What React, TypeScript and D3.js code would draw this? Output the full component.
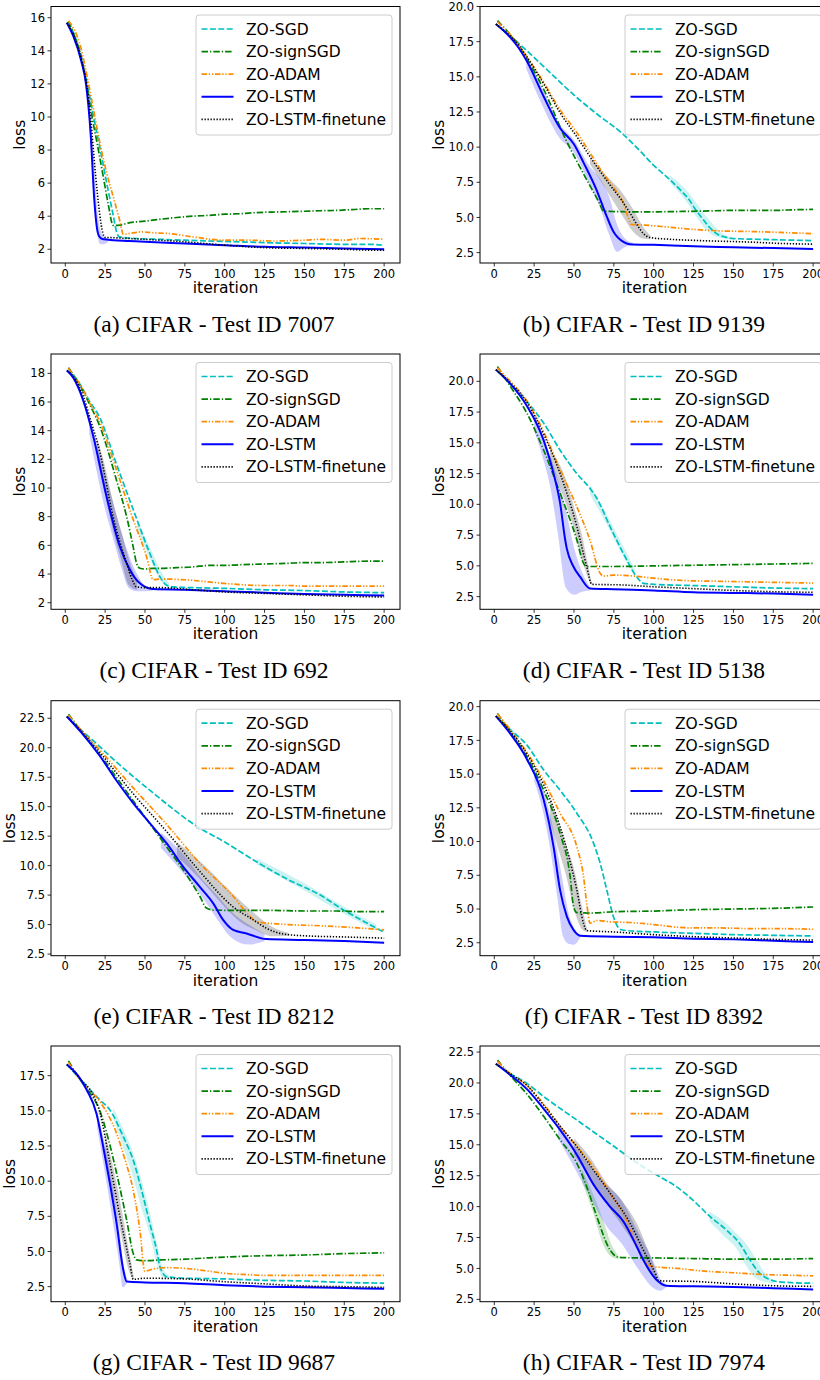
import React from "react";
import * as d3 from "d3";

type P = [number, number];
type B = [number, number, number];

// ---------- shared labels ----------
const SERIES_NAMES = ["ZO-SGD", "ZO-signSGD", "ZO-ADAM", "ZO-LSTM", "ZO-LSTM-finetune"];
const X_TICKS = [0, 25, 50, 75, 100, 125, 150, 175, 200];
const Y_TICKS_INT_16 = [2, 4, 6, 8, 10, 12, 14, 16];
const Y_TICKS_INT_18 = [2, 4, 6, 8, 10, 12, 14, 16, 18];
const Y_TICKS_175 = [2.5, 5.0, 7.5, 10.0, 12.5, 15.0, 17.5];
const Y_TICKS_200 = [2.5, 5.0, 7.5, 10.0, 12.5, 15.0, 17.5, 20.0];
const Y_TICKS_225 = [2.5, 5.0, 7.5, 10.0, 12.5, 15.0, 17.5, 20.0, 22.5];
const TEST_IDS = ["7007", "9139", "692", "5138", "8212", "8392", "9687", "7974"];
const LETTERS = ["a", "b", "c", "d", "e", "f", "g", "h"];

// ---------- (a) Test ID 7007 ----------
const a_sgd: P[] = [[1,15.7],[5,15.1],[10,13.7],[14,11.9],[18,9.9],[22,8.0],[26,6.0],[30,4.1],[32.5,2.95],[34,2.75],[45,2.65],[60,2.6],[75,2.55],[90,2.5],[110,2.45],[125,2.4],[150,2.35],[175,2.3],[190,2.3],[200,2.25]];
const a_sign: P[] = [[2,15.8],[5,15.1],[10,13.6],[14,11.6],[17,9.9],[20,8.4],[24,6.3],[27,4.7],[30,3.45],[33,3.45],[40,3.6],[50,3.7],[60,3.82],[70,3.92],[80,4.0],[90,4.05],[100,4.12],[110,4.15],[120,4.22],[130,4.25],[140,4.27],[150,4.3],[160,4.33],[170,4.35],[180,4.4],[190,4.45],[200,4.45]];
const a_adam: P[] = [[2,15.8],[5,15.4],[10,14.1],[14,12.3],[18,10.3],[22,8.3],[26,6.6],[30,5.2],[34,3.8],[36.5,2.9],[40,2.95],[48,3.05],[55,3.0],[65,2.95],[80,2.75],[100,2.55],[115,2.55],[130,2.5],[150,2.55],[160,2.6],[175,2.55],[185,2.65],[200,2.6]];
const a_lstm: P[] = [[1,15.7],[5,14.9],[10,13.4],[13,12.0],[15.9,9.0],[18.2,5.0],[20,3.2],[21.5,2.75],[24,2.6],[30,2.55],[40,2.5],[50,2.45],[75,2.35],[100,2.25],[125,2.15],[150,2.1],[175,2.05],[200,2.0]];
const a_fine: P[] = [[1,15.7],[5,15.0],[10,13.5],[13,12.2],[16,9.8],[19,6.5],[21.5,4.2],[23.5,3.0],[25,2.72],[30,2.7],[40,2.65],[50,2.6],[75,2.45],[100,2.25],[125,2.1],[150,2.05],[175,2.0],[190,1.95],[200,1.95]];
const a_band_lstm: B[] = [[15,9.5,10.5],[18,5.5,7.5],[20,3.0,4.5],[22,2.3,3.2],[24,2.3,2.8],[27,2.45,2.65]];

// ---------- (b) Test ID 9139 ----------
const b_sgd: P[] = [[1,18.75],[10,17.9],[20,16.9],[35,15.3],[50,13.7],[65,12.3],[80,11.0],[90,9.9],[100,8.7],[110,7.7],[118,6.8],[122,6.3],[126,5.6],[130,5.0],[135,4.3],[140,3.8],[145,3.6],[150,3.5],[175,3.42],[200,3.35]];
const b_sign: P[] = [[2,19.0],[10,18.0],[15,17.3],[20,16.4],[31,14.1],[45,10.5],[56,8.1],[66,6.0],[68.5,5.45],[75,5.42],[90,5.4],[100,5.4],[115,5.42],[130,5.45],[150,5.5],[175,5.5],[190,5.55],[200,5.57]];
const b_adam: P[] = [[2,18.9],[10,18.0],[15,17.3],[20,16.5],[31,14.6],[41,12.7],[52,11.0],[60,9.6],[68.5,8.1],[75,7.1],[81,6.0],[84,5.0],[86,4.5],[95,4.45],[110,4.3],[125,4.15],[140,4.05],[160,4.0],[175,3.95],[200,3.85]];
const b_lstm: P[] = [[1,18.75],[10,17.8],[15,17.1],[20.5,16.1],[31,13.6],[41,11.4],[50,10.2],[56,8.9],[64,7.0],[70.6,5.05],[74.7,4.0],[81,3.26],[85,3.1],[100,3.05],[125,2.95],[150,2.88],[175,2.82],[200,2.75]];
const b_fine: P[] = [[1,18.75],[10,17.9],[15,17.3],[20,16.5],[31,14.5],[41,12.5],[52,10.7],[62,9.0],[72.6,7.3],[80,6.2],[85.2,5.3],[90,4.4],[93.5,3.86],[97.7,3.57],[110,3.45],[130,3.35],[160,3.25],[180,3.15],[200,3.1]];
const b_band_lstm: B[] = [[20,15.6,16.6],[30,13.0,14.2],[40,10.8,11.8],[50,9.6,10.5],[60,7.3,8.6],[66,5.8,7.8],[72,3.8,6.5],[77,2.55,4.5],[82,2.9,3.5],[87,3.0,3.2]];
const b_band_fine: B[] = [[60,8.8,9.3],[70,7.0,8.0],[80,5.2,6.8],[87,4.0,5.6],[93,3.5,4.4],[98,3.45,3.7]];
const b_band_sgd: B[] = [[110,7.5,8.0],[120,6.2,7.0],[127,5.0,6.0],[135,3.9,4.8],[142,3.55,3.95],[148,3.45,3.6]];

// ---------- (c) Test ID 692 ----------
const c_sgd: P[] = [[1,18.2],[5,17.9],[10,17.1],[15,16.1],[21.7,14.9],[32,11.7],[42.6,8.5],[53,5.45],[59.4,3.8],[63.5,3.23],[68,3.1],[80,3.05],[100,3.0],[125,2.9],[150,2.85],[175,2.75],[200,2.7]];
const c_sign: P[] = [[2,18.4],[5,17.9],[10,17.0],[15,15.9],[21.7,14.3],[32,10.6],[38.5,8.0],[42.6,5.9],[44.7,4.75],[46.8,4.4],[50,4.35],[55,4.4],[60,4.4],[70,4.45],[80,4.5],[90,4.6],[100,4.6],[110,4.65],[125,4.7],[140,4.75],[150,4.8],[160,4.8],[175,4.85],[190,4.9],[200,4.9]];
const c_adam: P[] = [[2,18.35],[5,17.9],[10,17.1],[15,16.0],[21.7,14.6],[32,11.3],[42.6,7.8],[51,5.2],[55.2,3.6],[60,3.65],[75,3.6],[90,3.45],[105,3.3],[125,3.2],[140,3.2],[150,3.15],[175,3.15],[200,3.15]];
const c_lstm: P[] = [[1,18.2],[5,17.7],[11.3,16.1],[17.6,13.6],[25.9,9.4],[34.3,5.9],[40.5,4.3],[46.8,3.35],[55,2.95],[75,2.9],[100,2.8],[125,2.7],[150,2.6],[175,2.55],[200,2.5]];
const c_fine: P[] = [[1,18.2],[5,17.8],[11.3,16.4],[16,14.7],[21.7,12.5],[30,8.0],[38.5,4.74],[42,3.6],[44.7,3.1],[50,3.05],[60,3.05],[80,2.9],[100,2.75],[125,2.65],[150,2.55],[175,2.45],[200,2.4]];
const c_band_lstm: B[] = [[15,13.8,15.0],[20,11.0,13.0],[25,8.5,11.0],[30,6.5,9.0],[35,4.5,7.0],[40,3.0,5.3],[45,2.8,4.0],[50,2.8,3.2],[55,2.85,3.0]];
const c_band_fine: B[] = [[20,12.0,13.5],[25,9.5,11.5],[30,7.0,9.0],[35,5.0,7.0],[40,3.2,5.0],[45,2.9,3.5]];
const c_band_sgd: B[] = [[45,7.0,7.8],[55,4.6,5.4],[60,3.5,4.2],[65,3.0,3.4]];

// ---------- (d) Test ID 5138 ----------
const d_sgd: P[] = [[1,20.95],[10,19.8],[20.5,18.35],[31,16.6],[41.3,14.4],[51.8,12.5],[60,11.3],[64.3,10.5],[72.6,8.2],[81,6.0],[89.4,4.1],[93.5,3.58],[100,3.5],[125,3.4],[150,3.3],[175,3.2],[200,3.15]];
const d_sign: P[] = [[2,21.2],[10,19.6],[20.5,17.4],[31,14.4],[41.3,10.9],[51.8,7.1],[56,5.2],[58,4.95],[75,4.95],[100,5.0],[125,5.05],[150,5.1],[175,5.15],[200,5.2]];
const d_adam: P[] = [[2,21.1],[10,20.0],[20.5,18.4],[31,15.9],[41.3,12.8],[51.8,9.8],[60,7.1],[66.4,4.4],[68.5,4.17],[75,4.25],[85,4.2],[100,4.0],[120,3.8],[140,3.75],[160,3.7],[180,3.65],[200,3.6]];
const d_lstm: P[] = [[1,20.95],[10,19.8],[20.5,18.0],[31,15.2],[37.2,12.5],[41.3,10.1],[44.5,7.1],[45.5,6.4],[49.7,4.93],[53.9,4.1],[60,3.17],[75,3.1],[100,3.0],[125,2.85],[150,2.8],[175,2.75],[200,2.65]];
const d_fine: P[] = [[1,20.95],[10,19.9],[20.5,18.3],[31,15.7],[41.3,12.5],[51.8,8.2],[58,4.93],[61.2,3.5],[80,3.45],[100,3.3],[125,3.15],[150,3.0],[175,2.9],[200,2.85]];
const d_band_lstm: B[] = [[25,16.0,17.3],[30,14.0,15.8],[35,11.5,14.0],[40,7.5,12.0],[45,3.2,9.5],[50,2.65,6.5],[55,2.9,4.5],[60,3.0,3.3]];
const d_band_fine: B[] = [[35,13.5,14.5],[45,10.0,12.0],[50,8.0,9.8],[55,5.5,7.5],[58,4.3,5.6],[61,3.4,3.7]];
const d_band_sgd: B[] = [[60,10.8,11.6],[70,8.5,9.3],[80,6.0,6.8],[88,4.2,4.8]];

// ---------- (e) Test ID 8212 ----------
const e_sgd: P[] = [[1,22.65],[10,21.5],[20,20.3],[32,18.8],[53,16.4],[83,13.3],[100,12.0],[124,10.0],[140,8.8],[160,7.5],[175,6.2],[191,5.0],[200,4.35]];
const e_sign: P[] = [[2,22.85],[10,21.4],[21.7,19.4],[42.6,15.5],[63.5,11.6],[75.9,9.25],[84.4,7.4],[88.6,6.4],[92.8,6.23],[110,6.2],[130,6.2],[150,6.15],[170,6.15],[185,6.1],[200,6.1]];
const e_adam: P[] = [[2,22.75],[10,21.5],[21.7,19.8],[42.6,16.6],[63.5,13.5],[84.4,10.2],[105.3,7.4],[115.8,5.7],[120,5.24],[125,5.15],[140,5.0],[160,4.9],[180,4.75],[200,4.55]];
const e_lstm: P[] = [[1,22.65],[10,21.3],[21.7,19.3],[32.2,17.2],[42.6,15.3],[53,13.6],[63.5,11.9],[74,9.9],[84.4,8.2],[92.8,6.8],[99,5.4],[105.3,4.55],[113.7,4.25],[126,3.77],[150,3.7],[175,3.6],[200,3.45]];
const e_fine: P[] = [[1,22.65],[10,21.4],[21.7,19.6],[42.6,16.1],[63.5,12.9],[84.4,9.5],[105.3,6.5],[117.9,5.4],[126,4.7],[136.7,4.2],[150,4.05],[175,3.95],[200,3.85]];
const e_band_lstm: B[] = [[60,11.5,12.8],[75,9.2,10.8],[85,7.5,9.0],[95,5.5,7.5],[105,3.8,6.0],[115,3.3,5.0],[125,3.6,4.2]];
const e_band_fine: B[] = [[70,10.8,12.0],[85,8.8,10.3],[100,6.5,8.3],[110,5.2,7.0],[120,4.5,5.8],[130,4.0,4.8],[140,4.05,4.3]];
const e_band_sgd: B[] = [[120,10.1,10.6],[150,7.9,8.5],[175,5.9,6.5],[195,4.5,5.0]];

// ---------- (f) Test ID 8392 ----------
const f_sgd: P[] = [[1,19.3],[10,18.3],[20.5,17.15],[31,15.3],[41.3,13.8],[51.8,12.1],[62.2,9.9],[66.4,8.4],[70.6,6.4],[74.7,4.45],[78.9,3.5],[83,3.4],[100,3.3],[125,3.2],[150,3.1],[175,3.05],[200,3.0]];
const f_sign: P[] = [[2,19.5],[10,18.1],[20.5,16.3],[31,13.8],[41.3,10.6],[47.6,7.4],[49.7,5.2],[51.8,4.73],[60,4.7],[75,4.8],[100,4.85],[125,4.95],[150,5.0],[175,5.05],[200,5.15]];
const f_adam: P[] = [[2,19.45],[10,18.3],[20.5,16.6],[31,14.5],[41.3,12.1],[51.8,9.6],[56,7.4],[58,5.4],[60.1,3.95],[64.3,4.15],[72.6,4.05],[85,4.0],[100,3.85],[115,3.65],[125,3.6],[140,3.6],[160,3.55],[175,3.55],[200,3.5]];
const f_lstm: P[] = [[1,19.3],[10,18.0],[20.5,16.1],[31,13.1],[37.2,9.6],[41.3,6.4],[45.5,4.45],[49.7,3.45],[53.9,3.02],[75,2.95],[100,2.9],[125,2.8],[150,2.75],[175,2.65],[200,2.55]];
const f_fine: P[] = [[1,19.3],[10,18.2],[20.5,16.5],[31,14.2],[41.3,11.1],[51.8,6.4],[56,3.93],[58,3.4],[75,3.3],[100,3.1],[125,2.95],[150,2.85],[175,2.75],[200,2.7]];
const f_band_lstm: B[] = [[25,14.5,15.5],[30,12.5,14.2],[35,9.5,12.0],[40,5.5,9.0],[43,3.0,7.0],[47,2.4,4.5],[50,2.35,3.6],[54,2.9,3.1]];
const f_band_fine: B[] = [[35,11.5,13.2],[40,9.5,11.5],[45,7.5,9.8],[50,5.0,8.0],[55,3.5,5.2],[58,3.3,3.6]];

// ---------- (g) Test ID 9687 ----------
const g_sgd: P[] = [[1,18.3],[11.3,17.0],[21.7,15.77],[28,15.06],[36.4,13.16],[42.6,11.5],[48.9,8.9],[53,7.0],[57.3,5.1],[59.4,3.92],[63.5,3.21],[75,3.1],[100,3.05],[125,2.95],[150,2.9],[175,2.8],[200,2.75]];
const g_sign: P[] = [[2,18.55],[10,17.1],[16,16.2],[21.7,15.0],[27,13.0],[32.2,10.56],[38.5,7.24],[42.6,4.87],[44.7,4.4],[50,4.35],[60,4.4],[75,4.45],[90,4.55],[110,4.65],[125,4.7],[150,4.75],[175,4.85],[200,4.9]];
const g_adam: P[] = [[2,18.45],[10,17.1],[21.7,15.65],[27,14.7],[32.2,13.4],[37,11.7],[42.6,9.37],[46.8,6.53],[49.9,3.6],[55,3.75],[63.5,3.85],[75,3.8],[90,3.6],[100,3.45],[115,3.35],[125,3.3],[150,3.3],[175,3.3],[200,3.3]];
const g_lstm: P[] = [[1,18.3],[8,17.5],[13.4,16.5],[19.6,14.8],[23.8,12.45],[28,9.85],[32.2,7.0],[36.4,3.68],[38.5,2.86],[50,2.8],[75,2.75],[100,2.6],[125,2.5],[150,2.45],[175,2.4],[200,2.35]];
const g_fine: P[] = [[1,18.3],[10,17.2],[17.6,16.1],[21.7,14.9],[28,11.27],[34.3,7.48],[40.5,4.16],[42.6,3.02],[50,3.1],[75,3.05],[100,2.85],[125,2.7],[150,2.55],[175,2.5],[200,2.45]];
const g_band_lstm: B[] = [[20,13.8,15.0],[25,10.5,12.5],[30,7.0,9.5],[34,4.0,6.5],[36,2.45,4.5],[39,2.8,3.0]];
const g_band_sgd: B[] = [[30,14.5,15.2],[36,12.5,13.8],[42,10.5,12.2],[48,8.0,10.0],[53,6.2,7.8],[57,4.3,5.8],[61,3.2,3.9],[65,3.05,3.3]];
const g_band_fine: B[] = [[25,11.8,13.5],[30,9.0,11.0],[35,6.2,8.2],[40,3.6,5.0],[43,3.0,3.2]];

// ---------- (h) Test ID 7974 ----------
const h_sgd: P[] = [[1,21.55],[10,20.75],[20.5,19.97],[31,18.9],[51.8,17.0],[72.6,15.1],[93.5,13.2],[104,12.4],[114.4,11.6],[124.8,10.5],[135.3,9.2],[145.7,8.1],[154,7.0],[160.3,5.7],[166.6,4.6],[172,4.15],[180,3.9],[200,3.8]];
const h_sign: P[] = [[2,21.85],[10,20.6],[20.5,19.1],[31,17.3],[41.3,15.4],[51.8,13.5],[58,11.6],[64.3,9.2],[72.6,6.5],[76.8,5.95],[81,5.87],[100,5.85],[125,5.8],[150,5.75],[175,5.75],[200,5.8]];
const h_adam: P[] = [[2,21.75],[10,20.75],[20.5,19.8],[31,18.3],[41.3,16.5],[51.8,14.85],[62.2,13.2],[72.6,11.1],[83,8.9],[89.4,6.76],[93.5,5.68],[99.8,5.14],[104,5.09],[115,5.0],[130,4.8],[150,4.65],[170,4.5],[185,4.45],[200,4.4]];
const h_lstm: P[] = [[1,21.55],[10,20.65],[20.5,19.5],[31,17.9],[41.3,16.2],[51.8,14.2],[62.2,11.8],[72.6,10.0],[81,8.8],[89.4,6.76],[93.5,5.68],[101.9,4.06],[108,3.6],[125,3.55],[150,3.5],[175,3.4],[200,3.3]];
const h_fine: P[] = [[1,21.55],[10,20.75],[20.5,19.8],[31,18.2],[41.3,16.5],[51.8,14.85],[62.2,12.96],[72.6,11.1],[85.2,8.65],[93.5,6.49],[101.9,4.33],[103,4.0],[125,3.95],[150,3.75],[175,3.6],[200,3.55]];
const h_band_lstm: B[] = [[40,15.5,16.8],[50,13.2,15.0],[60,10.8,13.3],[70,8.5,11.8],[80,7.0,10.5],[90,5.0,8.0],[100,3.4,5.5],[104,3.2,4.2],[108,3.5,3.7]];
const h_band_fine: B[] = [[50,14.2,15.5],[60,12.3,14.0],[70,10.3,12.0],[80,8.5,10.5],[90,6.5,8.5],[97,4.8,6.3],[102,3.9,4.6]];
const h_band_sign: B[] = [[55,12.0,13.0],[62,9.5,11.0],[68,7.0,9.0],[74,5.9,6.8],[78,5.75,6.0]];
const h_band_sgd: B[] = [[135,8.8,9.6],[145,7.5,8.7],[152,6.6,7.8],[158,5.2,7.0],[164,4.2,5.8],[170,3.9,4.6],[176,3.8,4.0]];

// ---------- styles ----------
const COLORS = ["#00bfbf", "#008000", "#ff8c00", "#0000ff", "#000000"];
const DASHES = ["6,2.4", "6.5,2,1.3,2", "5.5,1.8,1.3,1.8,1.3,1.8", "", "1.3,1.7"];
const WIDTHS = [1.7, 1.7, 1.7, 2.0, 1.6];
const BAND_OPACITY = 0.2;

const COL_X: [number, number][] = [[51, 400], [480, 829]];
const ROW_Y: [number, number][] = [[6.5, 263], [354, 609.3], [700.7, 955.7], [1046, 1301.7]];
const X_DOMAIN: [number, number] = [-8.95, 209.95];
const CAPTION_CX = [214, 644];

interface Band { s: number; pts: B[] }
interface Panel {
  series: P[][];
  bands: Band[];
  yTicks: number[];
  intTicks: boolean;
  yDomain: [number, number];
}

const PANELS: Panel[] = [
  { series: [a_sgd, a_sign, a_adam, a_lstm, a_fine], bands: [{ s: 3, pts: a_band_lstm }], yTicks: Y_TICKS_INT_16, intTicks: true, yDomain: [1.17, 16.68] },
  { series: [b_sgd, b_sign, b_adam, b_lstm, b_fine], bands: [{ s: 3, pts: b_band_lstm }, { s: 4, pts: b_band_fine }, { s: 0, pts: b_band_sgd }], yTicks: Y_TICKS_200, intTicks: false, yDomain: [1.76, 20.0] },
  { series: [c_sgd, c_sign, c_adam, c_lstm, c_fine], bands: [{ s: 3, pts: c_band_lstm }, { s: 4, pts: c_band_fine }, { s: 0, pts: c_band_sgd }], yTicks: Y_TICKS_INT_18, intTicks: true, yDomain: [1.54, 19.35] },
  { series: [d_sgd, d_sign, d_adam, d_lstm, d_fine], bands: [{ s: 3, pts: d_band_lstm }, { s: 4, pts: d_band_fine }, { s: 0, pts: d_band_sgd }], yTicks: Y_TICKS_200, intTicks: false, yDomain: [1.47, 22.22] },
  { series: [e_sgd, e_sign, e_adam, e_lstm, e_fine], bands: [{ s: 3, pts: e_band_lstm }, { s: 4, pts: e_band_fine }, { s: 0, pts: e_band_sgd }], yTicks: Y_TICKS_225, intTicks: false, yDomain: [2.36, 23.99] },
  { series: [f_sgd, f_sign, f_adam, f_lstm, f_fine], bands: [{ s: 3, pts: f_band_lstm }, { s: 4, pts: f_band_fine }], yTicks: Y_TICKS_200, intTicks: false, yDomain: [1.54, 20.44] },
  { series: [g_sgd, g_sign, g_adam, g_lstm, g_fine], bands: [{ s: 3, pts: g_band_lstm }, { s: 0, pts: g_band_sgd }, { s: 4, pts: g_band_fine }], yTicks: Y_TICKS_175, intTicks: false, yDomain: [1.43, 19.61] },
  { series: [h_sgd, h_sign, h_adam, h_lstm, h_fine], bands: [{ s: 3, pts: h_band_lstm }, { s: 4, pts: h_band_fine }, { s: 1, pts: h_band_sign }, { s: 0, pts: h_band_sgd }], yTicks: Y_TICKS_225, intTicks: false, yDomain: [2.31, 22.99] },
];

const TICK_FONT = "'DejaVu Sans', sans-serif";

function PanelView({ p, idx }: { p: Panel; idx: number }) {
  const col = idx % 2;
  const row = Math.floor(idx / 2);
  const [x0, x1] = COL_X[col];
  const [y0, y1] = ROW_Y[row];
  const x = d3.scaleLinear().domain(X_DOMAIN).range([x0, x1]);
  const y = d3.scaleLinear().domain(p.yDomain).range([y1, y0]);
  const line = d3.line<P>().x((d) => x(d[0])).y((d) => y(d[1])).curve(d3.curveMonotoneX);
  const area = d3.area<B>().x((d) => x(d[0])).y0((d) => y(d[1])).y1((d) => y(d[2])).curve(d3.curveMonotoneX);
  const fmt = p.intTicks ? d3.format("d") : d3.format(".1f");
  const clipId = `clip-${idx}`;
  const legX = x1 - 204;
  const legY = y0 + 8.5;
  const rowH = 22.6;
  return (
    <g>
      <defs>
        <clipPath id={clipId}>
          <rect x={x0} y={y0} width={x1 - x0} height={y1 - y0} />
        </clipPath>
      </defs>
      <g clipPath={`url(#${clipId})`}>
        {p.bands.map((b, i) => (
          <path key={"b" + i} d={area(b.pts) || ""} fill={COLORS[b.s]} fillOpacity={BAND_OPACITY} stroke="none" />
        ))}
        {p.series.map((s, i) => (
          <path key={"s" + i} d={line(s) || ""} fill="none" stroke={COLORS[i]} strokeWidth={WIDTHS[i]}
            strokeDasharray={DASHES[i] || undefined} strokeLinejoin="round" />
        ))}
      </g>
      <rect x={x0} y={y0} width={x1 - x0} height={y1 - y0} fill="none" stroke="#000" strokeWidth={1} />
      {X_TICKS.map((t) => (
        <g key={"xt" + t}>
          <line x1={x(t)} x2={x(t)} y1={y1} y2={y1 + 3.5} stroke="#000" strokeWidth={0.8} />
          <text x={x(t)} y={y1 + 14.5} textAnchor="middle" fontSize={11.5} fontFamily={TICK_FONT} fill="#000">{t}</text>
        </g>
      ))}
      {p.yTicks.map((t) => (
        <g key={"yt" + t}>
          <line x1={x0 - 3.5} x2={x0} y1={y(t)} y2={y(t)} stroke="#000" strokeWidth={0.8} />
          <text x={x0 - 6} y={y(t)} dy="0.36em" textAnchor="end" fontSize={11.5} fontFamily={TICK_FONT} fill="#000">{fmt(t)}</text>
        </g>
      ))}
      <text x={(x0 + x1) / 2} y={y1 + 30} textAnchor="middle" fontSize={15.5} fontFamily={TICK_FONT} fill="#000">iteration</text>
      <text transform={`translate(${x0 - (p.intTicks ? 31 : 41)},${(y0 + y1) / 2}) rotate(-90)`} dy="0.35em" textAnchor="middle" fontSize={15.5} fontFamily={TICK_FONT} fill="#000">loss</text>
      <g>
        <rect x={legX} y={legY} width={196} height={120} rx={3} fill="#fff" fillOpacity={0.8} stroke="#cccccc" strokeWidth={1} />
        {SERIES_NAMES.map((name, i) => (
          <g key={"lg" + i}>
            <line x1={legX + 5.5} x2={legX + 37.5} y1={legY + 14 + i * rowH} y2={legY + 14 + i * rowH}
              stroke={COLORS[i]} strokeWidth={WIDTHS[i]} strokeDasharray={DASHES[i] || undefined} />
            <text x={legX + 50} y={legY + 14 + i * rowH} dy="0.36em" fontSize={15.5} fontFamily={TICK_FONT} fill="#000">{name}</text>
          </g>
        ))}
      </g>
      <text x={CAPTION_CX[col]} y={y1 + 68.7} textAnchor="middle" fontSize={23.5} fontFamily="'Liberation Serif', 'Times New Roman', serif" fill="#000">
        {`(${LETTERS[idx]}) CIFAR - Test ID ${TEST_IDS[idx]}`}
      </text>
    </g>
  );
}

export default function App() {
  return (
    <svg width={820} height={1380} style={{ position: "absolute", left: 0, top: 0, background: "#fff" }}>
      <rect x={0} y={0} width={820} height={1380} fill="#fff" />
      {PANELS.map((p, i) => (
        <PanelView key={i} p={p} idx={i} />
      ))}
    </svg>
  );
}
